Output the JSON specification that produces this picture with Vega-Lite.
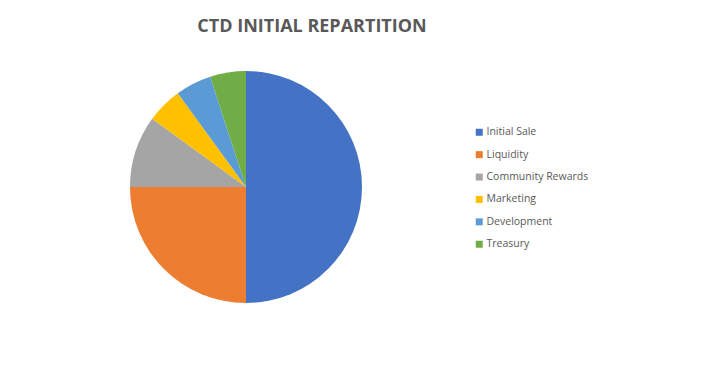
{
  "$schema": "https://vega.github.io/schema/vega-lite/v6.json",
  "width": 232,
  "height": 232,
  "autosize": {"type": "none"},
  "padding": {"left": 130, "top": 71, "right": 345, "bottom": 62},
  "background": "white",
  "title": {
    "text": "CTD INITIAL REPARTITION",
    "font": "Open Sans",
    "fontSize": 18,
    "fontWeight": "bold",
    "color": "#595959",
    "anchor": "middle",
    "baseline": "alphabetic",
    "dx": 66,
    "offset": 21
  },
  "config": {"view": {"stroke": null}},
  "data": {
    "values": [
      {"category": "Initial Sale", "value": 50, "rank": 1},
      {"category": "Liquidity", "value": 25, "rank": 2},
      {"category": "Community Rewards", "value": 10, "rank": 3},
      {"category": "Marketing", "value": 5, "rank": 4},
      {"category": "Development", "value": 5, "rank": 5},
      {"category": "Treasury", "value": 5, "rank": 6}
    ]
  },
  "mark": {"type": "arc", "outerRadius": 116},
  "encoding": {
    "theta": {"field": "value", "type": "quantitative", "stack": true},
    "order": {"field": "rank", "type": "quantitative", "sort": "ascending"},
    "color": {
      "field": "category",
      "type": "nominal",
      "scale": {
        "domain": ["Initial Sale", "Liquidity", "Community Rewards", "Marketing", "Development", "Treasury"],
        "range": ["#4472C4", "#ED7D31", "#A5A5A5", "#FFC000", "#5B9BD5", "#70AD47"]
      },
      "legend": {
        "title": null,
        "orient": "none",
        "legendX": 344,
        "legendY": 56,
        "symbolType": "square",
        "symbolSize": 49,
        "symbolStrokeWidth": 0,
        "labelFont": "Open Sans",
        "labelFontSize": 10.5,
        "labelColor": "#595959",
        "labelOffset": 2,
        "rowPadding": 11.4
      }
    }
  }
}
